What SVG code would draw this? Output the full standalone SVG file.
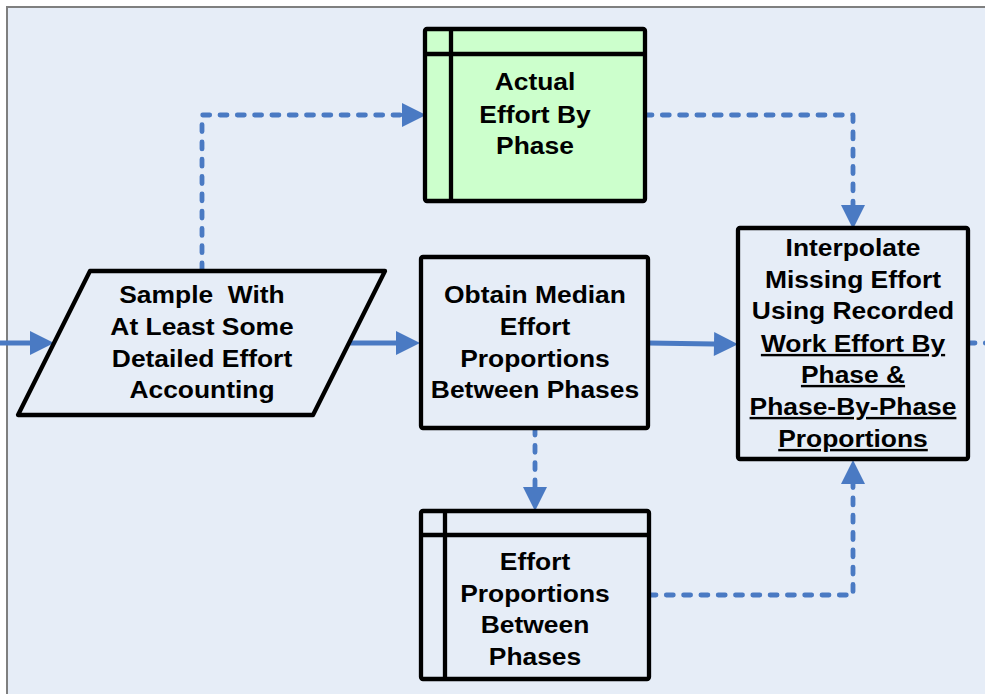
<svg xmlns="http://www.w3.org/2000/svg" width="985" height="694" viewBox="0 0 985 694">
  <style>
    .box { stroke: #000; stroke-width: 4.3; stroke-linejoin: round; }
    .plain { fill: #E6EDF7; }
    .store { fill: #CCFFCC; }
    .lbl { font-family: "Liberation Sans", Arial, sans-serif; font-weight: bold; font-size: 24px; fill: #000; text-anchor: middle; }
    .u { text-decoration: underline; }
    .flow { fill: none; stroke: #4A7AC3; stroke-width: 4.8; stroke-linecap: round; stroke-linejoin: round; }
    .dash { stroke-dasharray: 7 10.3; }
  </style>
  <defs>
    <marker id="head" markerUnits="userSpaceOnUse" markerWidth="24" markerHeight="24" refX="0" refY="12" orient="auto" overflow="visible">
      <path d="M0,0 L24,12 L0,24 Z" fill="#4A7AC3"/>
    </marker>
  </defs>

  <!-- page background and frame -->
  <rect x="0" y="0" width="985" height="694" fill="#FFFFFF"/>
  <rect x="7" y="7" width="1000" height="700" fill="#E6EDF7" stroke="#7F7F7F" stroke-width="2"/>

  <!-- connectors -->
  <g id="connectors">
    <path class="flow" d="M0,343 L30,343" marker-end="url(#head)"/>
    <path class="flow" d="M349,343 L396,343" marker-end="url(#head)"/>
    <path class="flow" d="M648,343 L714,344" marker-end="url(#head)"/>
    <path class="flow dash" d="M968,343 L992,343"/>
    <path class="flow dash" d="M202,270 L202,115 L402,115" marker-end="url(#head)"/>
    <path class="flow dash" d="M645,115 L853,115 L853,205" marker-end="url(#head)"/>
    <path class="flow dash" d="M535,428 L535,487" marker-end="url(#head)"/>
    <path class="flow dash" d="M649,595 L853,595 L853,484" marker-end="url(#head)"/>
  </g>

  <!-- input sample -->
  <g id="sample">
    <polygon class="box plain" points="90,271 385,271 313,415 18,415"/>
    <g transform="translate(202 0) scale(1.1 1)">
      <text class="lbl" x="0" y="303" xml:space="preserve">Sample  With</text>
      <text class="lbl" x="0" y="335">At Least Some</text>
      <text class="lbl" x="0" y="367">Detailed Effort</text>
      <text class="lbl" x="0" y="398">Accounting</text>
    </g>
  </g>

  <!-- data store: actual effort -->
  <g id="actual-effort">
    <rect class="box store" x="425" y="29" width="220" height="172" rx="2"/>
    <line class="box" x1="425" y1="54" x2="645" y2="54"/>
    <line class="box" x1="451" y1="29" x2="451" y2="201"/>
    <g transform="translate(535 0) scale(1.1 1)">
      <text class="lbl" x="0" y="90">Actual</text>
      <text class="lbl" x="0" y="123">Effort By</text>
      <text class="lbl" x="0" y="154">Phase</text>
    </g>
  </g>

  <!-- process: median proportions -->
  <g id="obtain-median">
    <rect class="box plain" x="421" y="257" width="227" height="171" rx="2"/>
    <g transform="translate(535 0) scale(1.1 1)">
      <text class="lbl" x="0" y="303">Obtain Median</text>
      <text class="lbl" x="0" y="335">Effort</text>
      <text class="lbl" x="0" y="367">Proportions</text>
      <text class="lbl" x="0" y="398">Between Phases</text>
    </g>
  </g>

  <!-- data store: proportions -->
  <g id="effort-proportions">
    <rect class="box plain" x="421" y="511" width="228" height="168" rx="2"/>
    <line class="box" x1="421" y1="535" x2="649" y2="535"/>
    <line class="box" x1="445" y1="511" x2="445" y2="679"/>
    <g transform="translate(535 0) scale(1.1 1)">
      <text class="lbl" x="0" y="570">Effort</text>
      <text class="lbl" x="0" y="602">Proportions</text>
      <text class="lbl" x="0" y="633">Between</text>
      <text class="lbl" x="0" y="665">Phases</text>
    </g>
  </g>

  <!-- process: interpolation -->
  <g id="interpolate">
    <rect class="box plain" x="738" y="228" width="230" height="231" rx="2"/>
    <g transform="translate(853 0) scale(1.1 1)">
      <text class="lbl" x="0" y="256">Interpolate</text>
      <text class="lbl" x="0" y="288">Missing Effort</text>
      <text class="lbl" x="0" y="319">Using Recorded</text>
      <text class="lbl u" x="0" y="352">Work Effort By</text>
      <text class="lbl u" x="0" y="383">Phase &amp;</text>
      <text class="lbl u" x="0" y="415">Phase-By-Phase</text>
      <text class="lbl u" x="0" y="447">Proportions</text>
    </g>
  </g>
</svg>
